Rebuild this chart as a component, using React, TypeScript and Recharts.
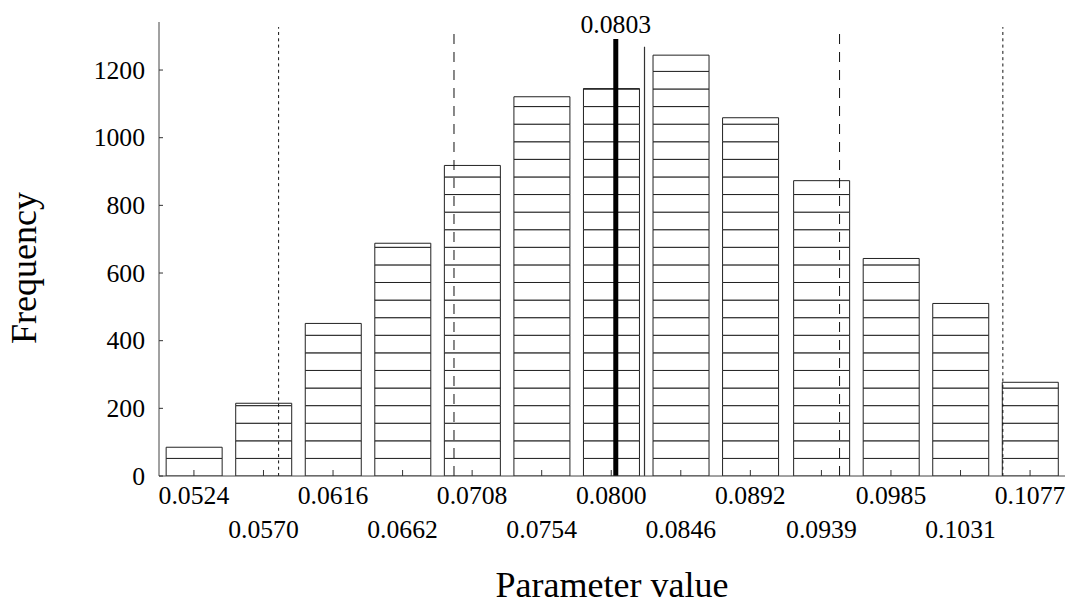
import React from 'react';
import { BarChart, Bar, XAxis, YAxis, ReferenceLine, Label } from 'recharts';

// bin centres (as printed) and counts
const binLabels = ['0.0524', '0.0570', '0.0616', '0.0662', '0.0708', '0.0754', '0.0800', '0.0846', '0.0892', '0.0939', '0.0985', '0.1031', '0.1077'];
const counts = [85, 215, 451, 688, 918, 1121, 1145, 1244, 1059, 873, 643, 510, 277];
const yTicks = [0, 200, 400, 600, 800, 1000, 1200];

// horizontal hatching inside each bar, one line per step
const stripeStep = 52;

// vertical markers: value and how high each one reaches
const dottedLines = [0.058, 0.1059];
const dashedLines = [0.0696, 0.0951];
const markerTop = 1327;
const meanValue = 0.0803;
const meanTop = 1292;
const medianValue = 0.0822;
const medianTop = 1269;

const xDomain = [0.05009, 0.11001];
const yDomain = [0, 1342];

const FONT = '"Liberation Serif", "Times New Roman", serif';
const TICK_FS = 25.7;

const segCount = Math.ceil(Math.max(...counts) / stripeStep);
const segKeys = Array.from({ length: segCount }, (_, k) => `s${k}`);

const data = binLabels.map((lab, i) => {
  const row: Record<string, number | null> = { x: parseFloat(lab) };
  segKeys.forEach((key, k) => {
    const rest = counts[i] - k * stripeStep;
    row[key] = rest > 0 ? Math.min(rest, stripeStep) : null;
  });
  return row;
});

const XTick = (props: any) => {
  const { x, y, index } = props;
  const row = index % 2;
  return (
    <g>
      <line x1={x} x2={x} y1={y - 6} y2={y} stroke="#333" strokeWidth={1} />
      <text x={x} y={y + (row === 0 ? 28 : 62)} textAnchor="middle" fontFamily={FONT} fontSize={TICK_FS} fill="#000">
        {binLabels[index]}
      </text>
    </g>
  );
};

const YTick = (props: any) => {
  const { x, y, payload } = props;
  return (
    <g>
      <line x1={x + 14} x2={x + 18} y1={y} y2={y} stroke="#333" strokeWidth={1} />
      <text x={x} y={y} dy="0.34em" textAnchor="end" fontFamily={FONT} fontSize={TICK_FS} fill="#000">
        {payload.value}
      </text>
    </g>
  );
};

export default function App() {
  return (
    <div style={{ position: 'absolute', left: 0, top: 0, width: 1069, height: 607, background: '#fff' }}>
      <BarChart
        width={1069}
        height={607}
        data={data}
        margin={{ top: 22, right: 4, bottom: 0, left: 0 }}
        barSize={56}
      >
        <XAxis
          dataKey="x"
          type="number"
          domain={xDomain}
          ticks={data.map((d) => d.x as number)}
          interval={0}
          height={131}
          tickSize={0}
          tickMargin={0}
          tickLine={false}
          tick={<XTick />}
          axisLine={{ stroke: '#444', strokeWidth: 1 }}
          allowDataOverflow
        >
          <Label
            content={(p: any) => (
              <text
                x={p.viewBox.x + p.viewBox.width / 2}
                y={p.viewBox.y + 121}
                textAnchor="middle"
                fontFamily={FONT}
                fontSize={36}
                fill="#000"
              >
                Parameter value
              </text>
            )}
          />
        </XAxis>
        <YAxis
          type="number"
          domain={yDomain}
          ticks={yTicks}
          interval={0}
          width={159}
          tickSize={0}
          tickMargin={14}
          tickLine={false}
          tick={<YTick />}
          axisLine={{ stroke: '#444', strokeWidth: 1 }}
          allowDataOverflow
        >
          <Label
            content={() => (
              <text
                x={36}
                y={268}
                transform="rotate(-90 36 268)"
                textAnchor="middle"
                fontFamily={FONT}
                fontSize={36}
                fill="#000"
              >
                Frequency
              </text>
            )}
          />
        </YAxis>
        {segKeys.map((key) => (
          <Bar
            key={key}
            dataKey={key}
            stackId="h"
            fill="#fff"
            stroke="#222"
            strokeWidth={1}
            isAnimationActive={false}
          />
        ))}
        {dottedLines.map((v) => (
          <ReferenceLine
            key={`dot${v}`}
            segment={[{ x: v, y: 0 }, { x: v, y: markerTop }]}
            stroke="#111"
            strokeWidth={1}
            strokeDasharray="3 3.3"
          />
        ))}
        {dashedLines.map((v) => (
          <ReferenceLine
            key={`dash${v}`}
            segment={[{ x: v, y: 0 }, { x: v, y: markerTop }]}
            stroke="#111"
            strokeWidth={1}
            strokeDasharray="10 8"
          />
        ))}
        <ReferenceLine
          segment={[{ x: medianValue, y: 0 }, { x: medianValue, y: medianTop }]}
          stroke="#333"
          strokeWidth={1.2}
        />
        <ReferenceLine
          segment={[{ x: meanValue, y: 0 }, { x: meanValue, y: meanTop }]}
          stroke="#000"
          strokeWidth={5}
          label={(p: any) => (
            <text
              x={p.viewBox.x + p.viewBox.width / 2}
              y={p.viewBox.y - 6}
              textAnchor="middle"
              fontFamily={FONT}
              fontSize={TICK_FS}
              fill="#000"
            >
              0.0803
            </text>
          )}
        />
      </BarChart>
    </div>
  );
}
